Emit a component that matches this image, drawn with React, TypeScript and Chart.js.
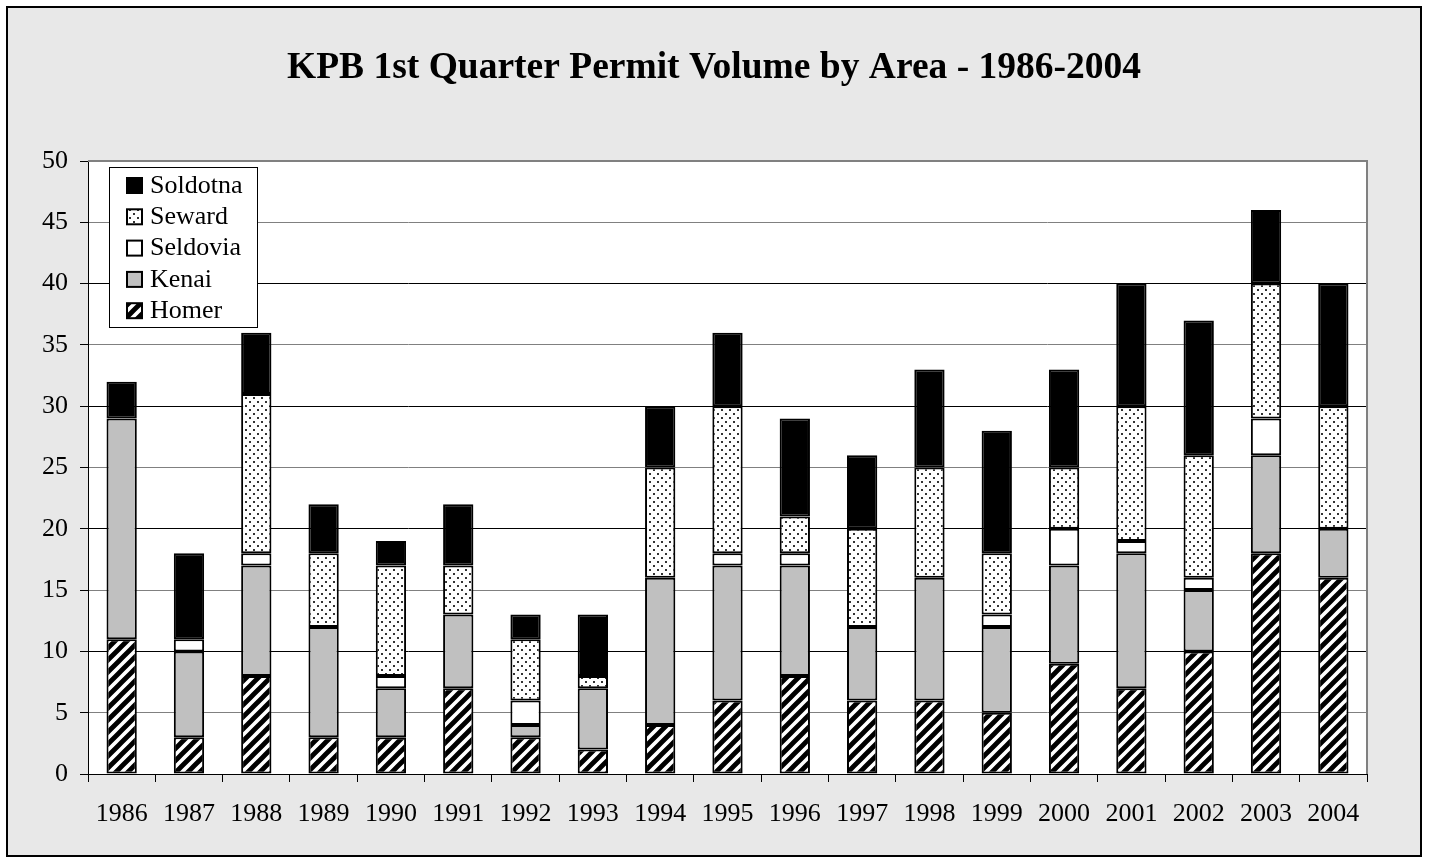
import React, { useEffect, useRef } from "react";
import { Chart, registerables } from "chart.js";

Chart.register(...registerables);

const years = ["1986","1987","1988","1989","1990","1991","1992","1993","1994","1995","1996","1997","1998","1999","2000","2001","2002","2003","2004"];
const homer =    [11, 3, 8, 3, 3, 7, 3, 2, 4, 6, 8, 6, 6, 5, 9, 7, 10, 18, 16];
const kenai =    [18, 7, 9, 9, 4, 6, 1, 5, 12, 11, 9, 6, 10, 7, 8, 11, 5, 8, 4];
const seldovia = [0, 1, 1, 0, 1, 0, 2, 0, 0, 1, 1, 0, 0, 1, 3, 1, 1, 3, 0];
const seward =   [0, 0, 13, 6, 9, 4, 5, 1, 9, 12, 3, 8, 9, 5, 5, 11, 10, 11, 10];
const soldotna = [3, 7, 5, 4, 2, 5, 2, 5, 5, 6, 8, 6, 8, 10, 8, 10, 11, 6, 10];
const yTicks = [0, 5, 10, 15, 20, 25, 30, 35, 40, 45, 50];
const titleText = "KPB 1st Quarter Permit Volume by Area - 1986-2004";

const SERIF = '"Liberation Serif", "Times New Roman", serif';

function makePattern(size: number, draw: (g: CanvasRenderingContext2D) => void): CanvasPattern {
  const c = document.createElement("canvas");
  c.width = size;
  c.height = size;
  const g = c.getContext("2d")!;
  draw(g);
  return g.createPattern(c, "repeat")!;
}

export default function App() {
  const ref = useRef<HTMLCanvasElement>(null);

  useEffect(() => {
    const canvas = ref.current!;
    const stripe = makePattern(12, (g) => {
      g.fillStyle = "#fff";
      g.fillRect(0, 0, 12, 12);
      g.strokeStyle = "#000";
      g.lineWidth = 4.8;
      g.beginPath();
      for (const o of [-12, 0, 12]) {
        g.moveTo(o - 2, 14);
        g.lineTo(o + 14, -2);
      }
      g.stroke();
    });
    const dots = makePattern(8, (g) => {
      g.fillStyle = "#fff";
      g.fillRect(0, 0, 8, 8);
      g.fillStyle = "#333";
      g.fillRect(1, 1, 2, 2);
      g.fillRect(5, 5, 2, 2);
    });

    const series = [
      { label: "Homer", data: homer, bg: stripe as any },
      { label: "Kenai", data: kenai, bg: "#C0C0C0" },
      { label: "Seldovia", data: seldovia, bg: "#FFFFFF" },
      { label: "Seward", data: seward, bg: dots as any },
      { label: "Soldotna", data: soldotna, bg: "#000000" },
    ];

    const decor = {
      id: "decor",
      beforeDraw(chart: any) {
        const ctx = chart.ctx as CanvasRenderingContext2D;
        const a = chart.chartArea;
        ctx.save();
        ctx.fillStyle = "#fff";
        ctx.fillRect(0, 0, chart.width, chart.height);
        ctx.fillStyle = "#E8E8E8";
        ctx.fillRect(7, 7, 1414, 849);
        ctx.strokeStyle = "#000";
        ctx.lineWidth = 2;
        ctx.strokeRect(7, 7, 1414, 849);
        ctx.fillStyle = "#fff";
        ctx.fillRect(a.left, a.top, a.right - a.left, a.bottom - a.top);
        ctx.fillStyle = "#000";
        ctx.font = "bold 37.5px " + SERIF;
        ctx.textAlign = "center";
        ctx.textBaseline = "alphabetic";
        ctx.fillText(titleText, 714, 78);
        ctx.restore();
      },
      afterDraw(chart: any) {
        const ctx = chart.ctx as CanvasRenderingContext2D;
        const a = chart.chartArea;
        ctx.save();
        ctx.strokeStyle = "#808080";
        ctx.lineWidth = 2;
        ctx.beginPath();
        ctx.moveTo(a.left, a.top);
        ctx.lineTo(a.right, a.top);
        ctx.lineTo(a.right, a.bottom);
        ctx.stroke();
        // legend
        const lx = 109, ly = 167, lw = 148, lh = 160;
        ctx.fillStyle = "#fff";
        ctx.fillRect(lx, ly, lw, lh);
        ctx.strokeStyle = "#000";
        ctx.lineWidth = 1;
        ctx.strokeRect(lx + 0.5, ly + 0.5, lw, lh);
        const rev = [...series].reverse();
        ctx.font = "26px " + SERIF;
        ctx.textAlign = "left";
        ctx.textBaseline = "middle";
        rev.forEach((s, i) => {
          const cy = 185 + i * 31.3;
          ctx.fillStyle = s.bg;
          ctx.fillRect(127, cy - 7, 15, 15);
          ctx.strokeStyle = "#000";
          ctx.lineWidth = 2;
          ctx.strokeRect(127, cy - 7, 15, 15);
          ctx.fillStyle = "#000";
          ctx.fillText(s.label, 150, cy + 1);
        });
        ctx.restore();
      },
    };

    const chart = new Chart(canvas, {
      type: "bar",
      data: {
        labels: years,
        datasets: series.map((s) => ({
          label: s.label,
          data: s.data,
          backgroundColor: s.bg,
          borderColor: "#000",
          borderWidth: 2,
          borderSkipped: false,
          barPercentage: 0.45,
          categoryPercentage: 1,
        })),
      },
      options: {
        responsive: false,
        animation: false,
        layout: { padding: { top: 161, right: 63, left: 0, bottom: 0 } },
        plugins: {
          legend: { display: false },
          title: { display: false },
          tooltip: { enabled: false },
        },
        scales: {
          x: {
            stacked: true,
            grid: {
              display: true,
              drawOnChartArea: false,
              drawTicks: true,
              tickLength: 8,
              color: "#000",
              offset: true,
            },
            border: { display: true, color: "#000", width: 1 },
            ticks: {
              color: "#000",
              font: { family: SERIF, size: 26 },
              padding: 17,
              maxRotation: 0,
              autoSkip: false,
            },
            afterFit: (s: any) => {
              s.height = 89;
            },
          },
          y: {
            stacked: true,
            min: 0,
            max: 50,
            afterBuildTicks: (s: any) => {
              s.ticks = yTicks.map((v) => ({ value: v }));
            },
            ticks: {
              stepSize: 5,
              color: "#000",
              font: { family: SERIF, size: 26 },
              padding: 12,
            },
            grid: {
              color: (c: any) => (c.tick && c.tick.value % 10 === 0 ? "#000" : "#808080"),
              tickColor: "#000",
              tickLength: 8,
              lineWidth: 1,
            },
            border: { display: true, color: "#000", width: 1 },
            afterFit: (s: any) => {
              s.width = 88;
            },
          },
        },
      },
      plugins: [decor],
    });
    return () => chart.destroy();
  }, []);

  return (
    <div style={{ position: "fixed", left: 0, top: 0, width: 1430, height: 863 }}>
      <canvas ref={ref} width={1430} height={863} style={{ display: "block" }} />
    </div>
  );
}
